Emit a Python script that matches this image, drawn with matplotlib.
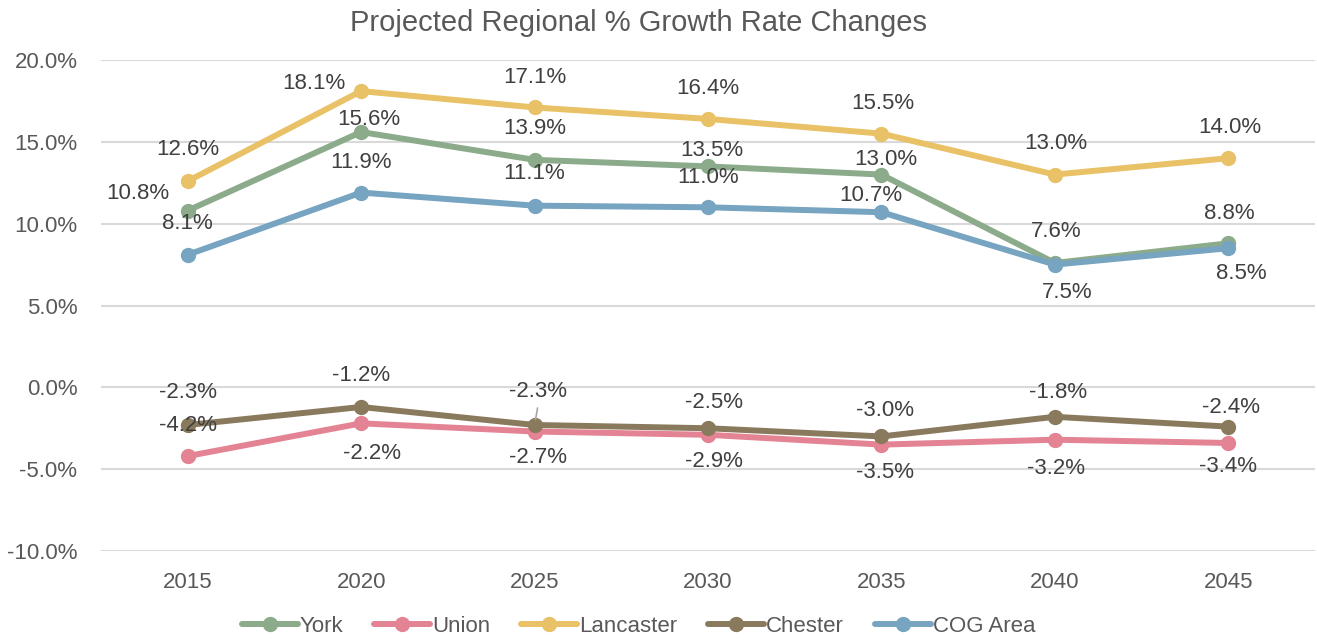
import matplotlib
matplotlib.use("Agg")
import matplotlib.pyplot as plt
from matplotlib import font_manager

years = ["2015", "2020", "2025", "2030", "2035", "2040", "2045"]
york = [10.8, 15.6, 13.9, 13.5, 13.0, 7.6, 8.8]
union = [-4.2, -2.2, -2.7, -2.9, -3.5, -3.2, -3.4]
lancaster = [12.6, 18.1, 17.1, 16.4, 15.5, 13.0, 14.0]
chester = [-2.3, -1.2, -2.3, -2.5, -3.0, -1.8, -2.4]
cog = [8.1, 11.9, 11.1, 11.0, 10.7, 7.5, 8.5]
y_ticks = [-10, -5, 0, 5, 10, 15, 20]

names = ["York", "Union", "Lancaster", "Chester", "COG Area"]
series = [york, union, lancaster, chester, cog]
colors = ["#8BAB8B", "#E38393", "#E9C166", "#8A7A5D", "#76A4C1"]

# label offsets in pixels (dx, dy) and horizontal alignment
label_pos = {
    "York": [(-18, 17, "right"), (8, 13, "center"), (0, 31, "center"), (4, 16, "center"),
             (4, 15, "center"), (1, 31, "center"), (1, 30, "center")],
    "Union": [(0, 31, "center"), (11, -30, "center"), (3, -26, "center"), (6, -27, "center"),
              (4, -28, "center"), (1, -29, "center"), (0, -24, "center")],
    "Lancaster": [(0, 32, "center"), (-16, 8, "right"), (0, 30, "center"), (0, 30, "center"),
                  (1, 30, "center"), (1, 31, "center"), (2, 31, "center")],
    "Chester": [(0, 32, "center"), (0, 31, "center"), (3, 33, "center"), (6, 26, "center"),
                (4, 26, "center"), (3, 24, "center"), (3, 19, "center")],
    "COG Area": [(0, 31, "center"), (0, 30, "center"), (0, 32, "center"), (0, 30, "center"),
                 (-11, 17, "center"), (12, -28, "center"), (13, -25, "center")],
}

avail = {f.name for f in font_manager.fontManager.ttflist}
fam = ["Liberation Sans Narrow"] if "Liberation Sans Narrow" in avail else ["Liberation Sans"]
plt.rcParams["font.family"] = fam + ["DejaVu Sans"]

fig = plt.figure(figsize=(13.17, 6.40), dpi=100)
ax = fig.add_axes([101 / 1317, 1 - 551 / 640, (1315 - 101) / 1317, (551 - 60) / 640])

x = list(range(len(years)))
for name, vals, col in zip(names, series, colors):
    ax.plot(x, vals, color=col, lw=4.3, marker="o", ms=10, label=name,
            solid_capstyle="round", zorder=3)

for name, vals in zip(names, series):
    for i, v in enumerate(vals):
        dx, dy, ha = label_pos[name][i]
        ax.annotate(f"{v:.1f}%", (i, v), xytext=(dx, dy), textcoords="offset pixels",
                    ha=ha, va="center", fontsize=16, color="#404040", zorder=5)

# leader line for Chester 2025 label
ax.annotate("", (2, chester[2]), xytext=(3, 17), textcoords="offset pixels",
            arrowprops=dict(arrowstyle="-", color="#A6A6A6", lw=1.2, shrinkA=0, shrinkB=4))

ax.set_xlim(-0.5, len(years) - 0.5)
ax.set_ylim(-10, 20)
ax.set_yticks(y_ticks)
ax.set_yticklabels([f"{t:.1f}%" for t in y_ticks])
ax.set_xticks(x)
ax.set_xticklabels(years)
ax.grid(axis="y", color="#D9D9D9", lw=1.5, zorder=0)
ax.set_axisbelow(True)
for s in ax.spines.values():
    s.set_visible(False)
ax.tick_params(axis="both", length=0, labelsize=16, colors="#595959")
ax.tick_params(axis="y", pad=17)
ax.tick_params(axis="x", pad=15)

fig.text(0.485, 1 - 23 / 640, "Projected Regional % Growth Rate Changes",
         ha="center", va="center", fontsize=21, color="#595959")

leg = fig.legend(loc="center", bbox_to_anchor=(0.485, 1 - 626 / 640), ncol=5,
                 frameon=False, fontsize=16, handlelength=2.5, handletextpad=0.1,
                 columnspacing=1.4, borderaxespad=0)
for t in leg.get_texts():
    t.set_color("#595959")

fig.savefig("out.png", dpi=100)
